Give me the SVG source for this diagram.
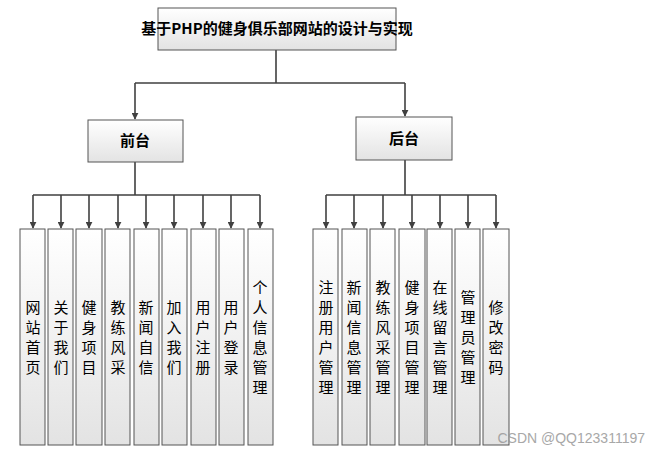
<svg xmlns="http://www.w3.org/2000/svg" width="661" height="455" viewBox="0 0 661 455">
<style>
.box{fill:url(#g);stroke:#555;stroke-width:1}
.t{font-family:"Noto Sans CJK SC","Liberation Sans",sans-serif;font-size:15px;fill:#000;text-anchor:middle;font-weight:bold}
.v{font-family:"Noto Sans CJK SC",sans-serif;font-size:15px;fill:#000;text-anchor:middle}
.c{fill:none;stroke:#404040;stroke-width:1.6}
</style>
<defs>
<linearGradient id="g" x1="0" y1="0" x2="0" y2="1"><stop offset="0" stop-color="#ffffff"/><stop offset="1" stop-color="#e3e3e3"/></linearGradient>
<marker id="a" viewBox="0 0 10 10" refX="9" refY="5" markerWidth="7" markerHeight="7" orient="auto" markerUnits="userSpaceOnUse"><path d="M0,0L10,5L0,10z" fill="#404040"/></marker>
</defs>
<rect width="661" height="455" fill="#fff"/>
<g id="connectors">
<path class="c" d="M276,50V83M135,83H405"/>
<path class="c" d="M135,83V119" marker-end="url(#a)"/>
<path class="c" d="M405,83V116" marker-end="url(#a)"/>
<path class="c" d="M135,162V195M33,195H260"/>
<path class="c" d="M405,160V195M326,195H496"/>
<g marker-end="url(#a)">
<path class="c" d="M33,195V228"/><path class="c" d="M61,195V228"/><path class="c" d="M89,195V228"/><path class="c" d="M118,195V228"/><path class="c" d="M146,195V228"/><path class="c" d="M174,195V228"/><path class="c" d="M203,195V228"/><path class="c" d="M231,195V228"/><path class="c" d="M260,195V228"/>
<path class="c" d="M326,195V228"/><path class="c" d="M354,195V228"/><path class="c" d="M383,195V228"/><path class="c" d="M412,195V228"/><path class="c" d="M440,195V228"/><path class="c" d="M468,195V228"/><path class="c" d="M496,195V228"/>
</g>
</g>
<g id="root"><rect class="box" x="158" y="8" width="238" height="42"/><text class="t" x="277" y="34">基于PHP的健身俱乐部网站的设计与实现</text></g>
<g id="front"><rect class="box" x="88" y="120" width="95" height="42"/><text class="t" x="135" y="146">前台</text></g>
<g id="back"><rect class="box" x="356" y="117" width="96" height="43"/><text class="t" x="404" y="144">后台</text></g>
<g id="leaves">
<g id="l1"><rect class="box" x="20" y="229" width="25" height="216"/><text class="v" x="33" y="313">网<tspan x="33" dy="20">站</tspan><tspan x="33" dy="20">首</tspan><tspan x="33" dy="20">页</tspan></text></g>
<g id="l2"><rect class="box" x="48" y="229" width="25" height="216"/><text class="v" x="61" y="313">关<tspan x="61" dy="20">于</tspan><tspan x="61" dy="20">我</tspan><tspan x="61" dy="20">们</tspan></text></g>
<g id="l3"><rect class="box" x="76" y="229" width="26" height="216"/><text class="v" x="89" y="313">健<tspan x="89" dy="20">身</tspan><tspan x="89" dy="20">项</tspan><tspan x="89" dy="20">目</tspan></text></g>
<g id="l4"><rect class="box" x="105" y="229" width="25" height="216"/><text class="v" x="118" y="313">教<tspan x="118" dy="20">练</tspan><tspan x="118" dy="20">风</tspan><tspan x="118" dy="20">采</tspan></text></g>
<g id="l5"><rect class="box" x="134" y="229" width="25" height="216"/><text class="v" x="146" y="313">新<tspan x="146" dy="20">闻</tspan><tspan x="146" dy="20">自</tspan><tspan x="146" dy="20">信</tspan></text></g>
<g id="l6"><rect class="box" x="162" y="229" width="25" height="216"/><text class="v" x="174" y="313">加<tspan x="174" dy="20">入</tspan><tspan x="174" dy="20">我</tspan><tspan x="174" dy="20">们</tspan></text></g>
<g id="l7"><rect class="box" x="191" y="229" width="25" height="216"/><text class="v" x="203" y="313">用<tspan x="203" dy="20">户</tspan><tspan x="203" dy="20">注</tspan><tspan x="203" dy="20">册</tspan></text></g>
<g id="l8"><rect class="box" x="219" y="229" width="25" height="216"/><text class="v" x="231" y="313">用<tspan x="231" dy="20">户</tspan><tspan x="231" dy="20">登</tspan><tspan x="231" dy="20">录</tspan></text></g>
<g id="l9"><rect class="box" x="248" y="229" width="25" height="216"/><text class="v" x="260" y="293">个<tspan x="260" dy="20">人</tspan><tspan x="260" dy="20">信</tspan><tspan x="260" dy="20">息</tspan><tspan x="260" dy="20">管</tspan><tspan x="260" dy="20">理</tspan></text></g>
<g id="r1"><rect class="box" x="313" y="229" width="25" height="216"/><text class="v" x="326" y="293">注<tspan x="326" dy="20">册</tspan><tspan x="326" dy="20">用</tspan><tspan x="326" dy="20">户</tspan><tspan x="326" dy="20">管</tspan><tspan x="326" dy="20">理</tspan></text></g>
<g id="r2"><rect class="box" x="342" y="229" width="25" height="216"/><text class="v" x="354" y="293">新<tspan x="354" dy="20">闻</tspan><tspan x="354" dy="20">信</tspan><tspan x="354" dy="20">息</tspan><tspan x="354" dy="20">管</tspan><tspan x="354" dy="20">理</tspan></text></g>
<g id="r3"><rect class="box" x="370" y="229" width="25" height="216"/><text class="v" x="383" y="293">教<tspan x="383" dy="20">练</tspan><tspan x="383" dy="20">风</tspan><tspan x="383" dy="20">采</tspan><tspan x="383" dy="20">管</tspan><tspan x="383" dy="20">理</tspan></text></g>
<g id="r4"><rect class="box" x="399" y="229" width="26" height="216"/><text class="v" x="412" y="293">健<tspan x="412" dy="20">身</tspan><tspan x="412" dy="20">项</tspan><tspan x="412" dy="20">目</tspan><tspan x="412" dy="20">管</tspan><tspan x="412" dy="20">理</tspan></text></g>
<g id="r5"><rect class="box" x="427" y="229" width="25" height="216"/><text class="v" x="440" y="293">在<tspan x="440" dy="20">线</tspan><tspan x="440" dy="20">留</tspan><tspan x="440" dy="20">言</tspan><tspan x="440" dy="20">管</tspan><tspan x="440" dy="20">理</tspan></text></g>
<g id="r6"><rect class="box" x="455" y="229" width="25" height="216"/><text class="v" x="468" y="303">管<tspan x="468" dy="20">理</tspan><tspan x="468" dy="20">员</tspan><tspan x="468" dy="20">管</tspan><tspan x="468" dy="20">理</tspan></text></g>
<g id="r7"><rect class="box" x="483" y="229" width="26" height="216"/><text class="v" x="496" y="313">修<tspan x="496" dy="20">改</tspan><tspan x="496" dy="20">密</tspan><tspan x="496" dy="20">码</tspan></text></g>
</g>
<text x="645" y="443" font-family="Liberation Sans,sans-serif" font-size="14" fill="#999" text-anchor="end" opacity="0.85">CSDN @QQ123311197</text>
</svg>
